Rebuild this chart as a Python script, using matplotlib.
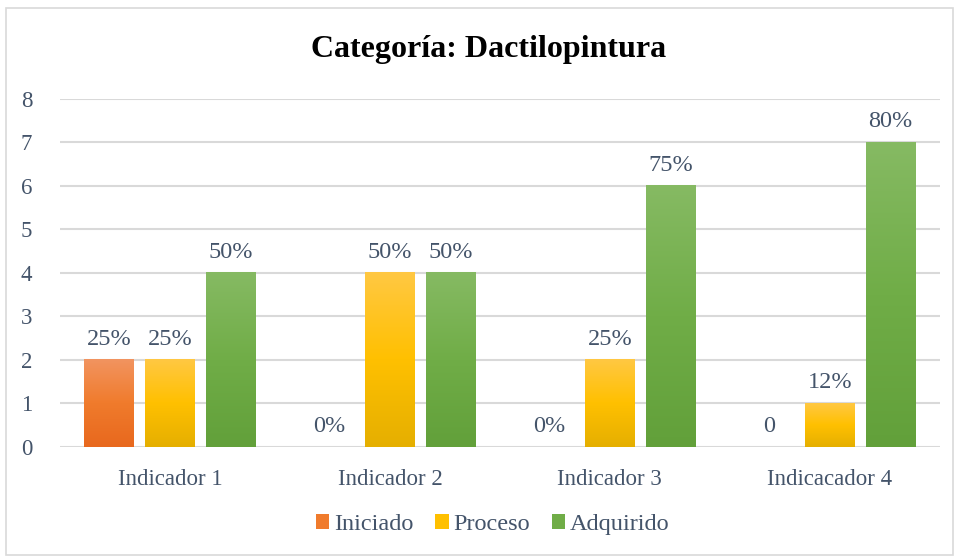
import numpy as np
import matplotlib.pyplot as plt
from matplotlib.colors import LinearSegmentedColormap
from matplotlib.patches import Rectangle

plt.rcParams['font.family'] = ['Liberation Serif', 'DejaVu Serif']

categorias = ['Indicador 1', 'Indicador 2', 'Indicador 3', 'Indicacador 4']
series = ['Iniciado', 'Proceso', 'Adquirido']
iniciado = [2, 0, 0, 0]
proceso = [2, 4, 2, 1]
adquirido = [4, 4, 6, 7]
etiq_iniciado = ['25%', '0%', '0%', '0']
etiq_proceso = ['25%', '50%', '25%', '12%']
etiq_adquirido = ['50%', '50%', '75%', '80%']

# colores degradados (arriba, medio, abajo)
grad = [
    ['#F29460', '#F07B2C', '#E8681E'],
    ['#FFC843', '#FFC000', '#E5AF00'],
    ['#86BA63', '#70AD47', '#62A03A'],
]
txt = '#44546A'

fig = plt.figure(figsize=(9.57, 5.57), dpi=100)
fig.patches.append(Rectangle((0.006, 0.004), 0.99, 0.982, transform=fig.transFigure,
                             fill=False, edgecolor='#D9D9D9', lw=1.2))
ax = fig.add_axes([0.0627, 0.1975, 0.9193, 0.6248])

x = np.arange(len(categorias))
w = 0.227
offs = [-0.277, 0, 0.277]
datos = [iniciado, proceso, adquirido]
etiqs = [etiq_iniciado, etiq_proceso, etiq_adquirido]

handles = []
for k in range(3):
    cmap = LinearSegmentedColormap.from_list('g%d' % k, grad[k][::-1])
    bars = ax.bar(x + offs[k], datos[k], w, color=grad[k][1], label=series[k], zorder=2)
    handles.append(bars)
    for b, lab in zip(bars, etiqs[k]):
        h = b.get_height()
        if h > 0:
            x0 = b.get_x()
            img = np.linspace(0, 1, 256).reshape(-1, 1)
            ax.imshow(img, cmap=cmap, origin='lower', aspect='auto',
                      extent=(x0, x0 + b.get_width(), 0, h), zorder=2.5)
        ax.text(b.get_x() + b.get_width() / 2, h + 0.24, lab, ha='center', va='bottom',
                fontsize=17.5, color=txt)

ax.set_xlim(-0.5, 3.5)
ax.set_ylim(0, 8)
ax.set_yticks(range(0, 9))
ax.yaxis.grid(True, color='#D9D9D9', lw=1.5, zorder=0)
ax.set_axisbelow(True)
for s in ax.spines.values():
    s.set_visible(False)
ax.tick_params(axis='both', length=0, labelsize=16.5, labelcolor=txt)
ax.tick_params(axis='y', pad=20)
ax.tick_params(axis='x', pad=16)
ax.set_xticks(x)
ax.set_xticklabels(categorias)

fig.text(0.511, 0.912, 'Categoría: Dactilopintura', ha='center', va='center',
         fontsize=23, fontweight='bold', color='black')

leg = fig.legend(handles=handles, labels=series, loc='center', bbox_to_anchor=(0.515, 0.058),
                 ncol=3, frameon=False, fontsize=17.5, handlelength=0.55, handleheight=0.55,
                 handletextpad=0.2, columnspacing=0.9)
for t in leg.get_texts():
    t.set_color(txt)

fig.savefig('out.png', dpi=100)
